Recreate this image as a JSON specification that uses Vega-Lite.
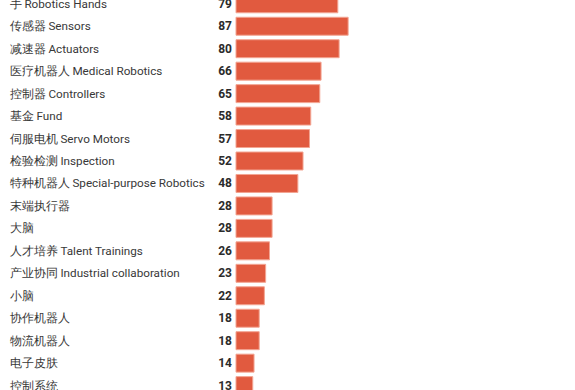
{
  "$schema": "https://vega.github.io/schema/vega-lite/v6.json",
  "autosize": {"type": "none"},
  "padding": {"left": 236, "top": -5.2, "right": 0, "bottom": 0},
  "width": 339,
  "height": 399.8,
  "background": "white",
  "config": {"view": {"stroke": null}, "font": "Roboto"},
  "data": {"values": [
    {"label": "手 Robotics Hands", "value": 79},
    {"label": "传感器 Sensors", "value": 87},
    {"label": "减速器 Actuators", "value": 80},
    {"label": "医疗机器人 Medical Robotics", "value": 66},
    {"label": "控制器 Controllers", "value": 65},
    {"label": "基金 Fund", "value": 58},
    {"label": "伺服电机 Servo Motors", "value": 57},
    {"label": "检验检测 Inspection", "value": 52},
    {"label": "特种机器人 Special-purpose Robotics", "value": 48},
    {"label": "末端执行器", "value": 28},
    {"label": "大脑", "value": 28},
    {"label": "人才培养 Talent Trainings", "value": 26},
    {"label": "产业协同 Industrial collaboration", "value": 23},
    {"label": "小脑", "value": 22},
    {"label": "协作机器人", "value": 18},
    {"label": "物流机器人", "value": 18},
    {"label": "电子皮肤", "value": 14},
    {"label": "控制系统", "value": 13}
  ]},
  "encoding": {
    "y": {
      "field": "label", "type": "nominal", "sort": null,
      "scale": {"paddingInner": 0.2, "paddingOuter": 0},
      "axis": {
        "title": null, "domain": false, "ticks": false, "grid": false,
        "labelAlign": "left", "labelPadding": 227, "labelFontSize": 11.7,
        "labelColor": "#383838", "labelFont": "Roboto", "labelLimit": 300
      }
    }
  },
  "layer": [
    {
      "mark": {"type": "bar", "color": "#e15a3f", "stroke": "#f3a593", "strokeWidth": 1},
      "encoding": {
        "x": {"field": "value", "type": "quantitative", "scale": {"domain": [0, 263], "nice": false}, "axis": null}
      }
    },
    {
      "mark": {"type": "text", "align": "right", "baseline": "middle", "dx": -4, "fontWeight": "bold", "fontSize": 12, "color": "#2b2b2b", "font": "Roboto"},
      "encoding": {
        "x": {"datum": 0, "type": "quantitative"},
        "text": {"field": "value", "type": "quantitative"}
      }
    }
  ]
}
